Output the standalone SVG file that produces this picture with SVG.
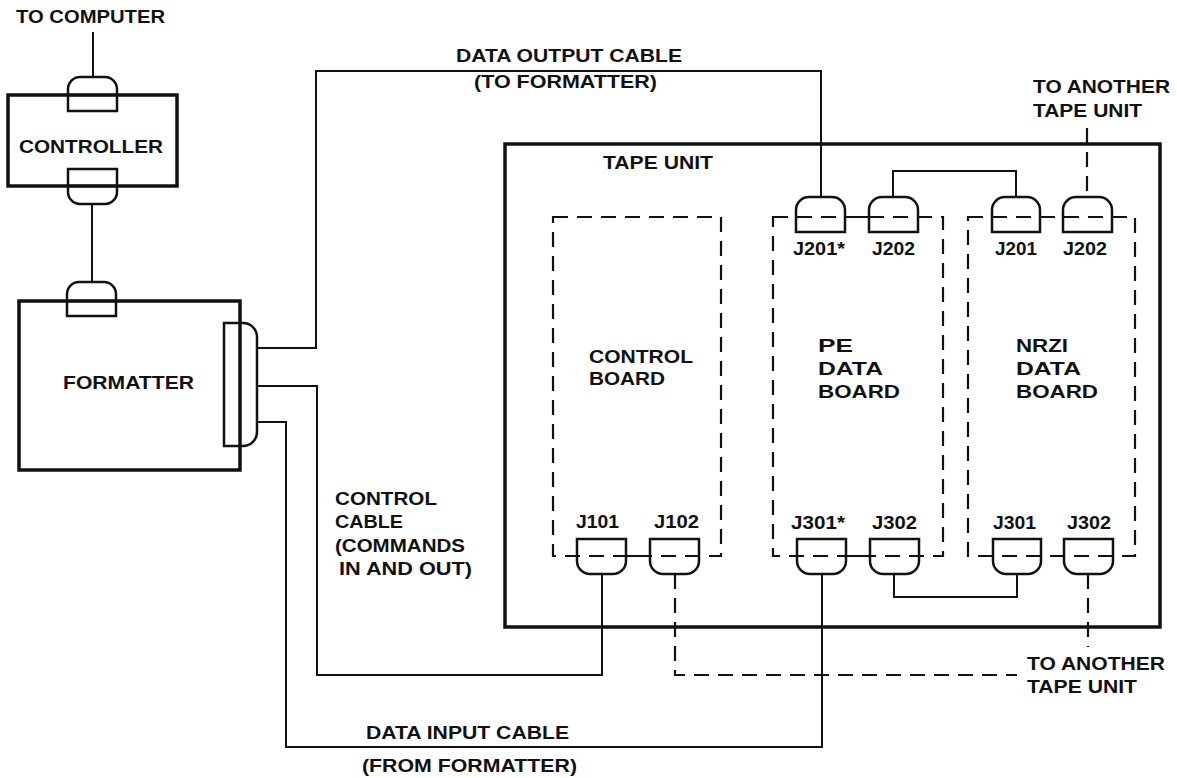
<svg xmlns="http://www.w3.org/2000/svg" width="1177" height="778" viewBox="0 0 1177 778">
<style>
.t{font-family:"Liberation Sans",Arial,Helvetica,sans-serif;font-weight:bold;font-size:18px;fill:#111}
.box{fill:none;stroke:#111;stroke-width:3.5}
.wire{fill:none;stroke:#111;stroke-width:2}
.dash{fill:none;stroke:#111;stroke-width:2.2;stroke-dasharray:15 9}
.conn{fill:none;stroke:#111;stroke-width:2.5}
</style>
<rect width="1177" height="778" fill="#fff"/>

<g id="connectors">
  <path class="wire" d="M93,32 V77"/>
  <path class="wire" d="M92,204 V282"/>
  <path class="wire" d="M257,348 H316 V71 H821 V197"/>
  <path class="wire" d="M257,386 H317 V675 H602 V574"/>
  <path class="wire" d="M257,422 H286 V747 H822 V574"/>
  <path class="dash" d="M675,574 V675 H1017"/>
  <path class="dash" d="M1088,574 V647"/>
  <path class="dash" d="M1087,128 V197"/>
  <path class="wire" d="M893,197 V171 H1016 V197"/>
  <path class="wire" d="M894,574 V597 H1017 V574"/>
  <path class="wire" d="M845,217 H869 M626,556 H650 M846,556 H870"/>
</g>

<g id="controller">
  <rect class="box" x="8" y="95" width="169" height="91"/>
  <path class="conn" d="M68,95 V89 A12,12 0 0 1 80,77 H105 A12,12 0 0 1 117,89 V95 Z M68,95 V111 H117 V95"/>
  <path class="conn" d="M68,186 V169 H117 V186 M68,186 V192 A12,12 0 0 0 80,204 H105 A12,12 0 0 0 117,192 V186 Z"/>
  <text class="t" x="19" y="153" textLength="144" lengthAdjust="spacingAndGlyphs">CONTROLLER</text>
</g>

<g id="formatter">
  <rect class="box" x="19" y="301" width="221" height="169"/>
  <path class="conn" d="M67,301 V294 A12,12 0 0 1 79,282 H104 A12,12 0 0 1 116,294 V301 Z M67,301 V316 H116 V301"/>
  <path class="conn" d="M240,323 H224 V446 H240"/>
  <path class="conn" d="M240,323 H243 A14,14 0 0 1 257,337 V432 A14,14 0 0 1 243,446 H240"/>
  <text class="t" x="63" y="389" textLength="131" lengthAdjust="spacingAndGlyphs">FORMATTER</text>
</g>

<g id="tape-unit">
  <rect class="box" x="505" y="144" width="655" height="483"/>
  <text class="t" x="603" y="169" textLength="110" lengthAdjust="spacingAndGlyphs">TAPE UNIT</text>
</g>

<g id="control-board">
  <rect class="dash" x="553" y="217" width="168" height="339"/>
  <text class="t" x="589" y="363" textLength="104" lengthAdjust="spacingAndGlyphs">CONTROL</text>
  <text class="t" x="589" y="385" textLength="76" lengthAdjust="spacingAndGlyphs">BOARD</text>
  <path class="conn" d="M577,539 H626 V561 A13,13 0 0 1 613,574 H590 A13,13 0 0 1 577,561 Z"/>
  <path class="conn" d="M650,539 H699 V561 A13,13 0 0 1 686,574 H663 A13,13 0 0 1 650,561 Z"/>
  <text class="t" x="576" y="528" textLength="43" lengthAdjust="spacingAndGlyphs">J101</text>
  <text class="t" x="654" y="528" textLength="45" lengthAdjust="spacingAndGlyphs">J102</text>
</g>

<g id="pe-data-board">
  <rect class="dash" x="773" y="217" width="170" height="339"/>
  <text class="t" x="818" y="352" textLength="35" lengthAdjust="spacingAndGlyphs">PE</text>
  <text class="t" x="818" y="375" textLength="65" lengthAdjust="spacingAndGlyphs">DATA</text>
  <text class="t" x="818" y="398" textLength="82" lengthAdjust="spacingAndGlyphs">BOARD</text>
  <path class="conn" d="M796,232 V210 A13,13 0 0 1 809,197 H832 A13,13 0 0 1 845,210 V232 Z"/>
  <path class="conn" d="M869,232 V210 A13,13 0 0 1 882,197 H905 A13,13 0 0 1 918,210 V232 Z"/>
  <path class="conn" d="M797,539 H846 V561 A13,13 0 0 1 833,574 H810 A13,13 0 0 1 797,561 Z"/>
  <path class="conn" d="M870,539 H919 V561 A13,13 0 0 1 906,574 H883 A13,13 0 0 1 870,561 Z"/>
  <text class="t" x="793" y="255" textLength="52" lengthAdjust="spacingAndGlyphs">J201*</text>
  <text class="t" x="872" y="255" textLength="43" lengthAdjust="spacingAndGlyphs">J202</text>
  <text class="t" x="791" y="529" textLength="54" lengthAdjust="spacingAndGlyphs">J301*</text>
  <text class="t" x="872" y="529" textLength="45" lengthAdjust="spacingAndGlyphs">J302</text>
</g>

<g id="nrzi-data-board">
  <rect class="dash" x="968" y="217" width="167" height="339"/>
  <text class="t" x="1016" y="352" textLength="52" lengthAdjust="spacingAndGlyphs">NRZI</text>
  <text class="t" x="1016" y="375" textLength="65" lengthAdjust="spacingAndGlyphs">DATA</text>
  <text class="t" x="1016" y="398" textLength="82" lengthAdjust="spacingAndGlyphs">BOARD</text>
  <path class="conn" d="M992,232 V210 A13,13 0 0 1 1005,197 H1027 A13,13 0 0 1 1040,210 V232 Z"/>
  <path class="conn" d="M1063,232 V210 A13,13 0 0 1 1076,197 H1099 A13,13 0 0 1 1112,210 V232 Z"/>
  <path class="conn" d="M993,539 H1041 V561 A13,13 0 0 1 1028,574 H1006 A13,13 0 0 1 993,561 Z"/>
  <path class="conn" d="M1064,539 H1113 V561 A13,13 0 0 1 1100,574 H1077 A13,13 0 0 1 1064,561 Z"/>
  <text class="t" x="995" y="255" textLength="42" lengthAdjust="spacingAndGlyphs">J201</text>
  <text class="t" x="1063" y="255" textLength="44" lengthAdjust="spacingAndGlyphs">J202</text>
  <text class="t" x="993" y="529" textLength="43" lengthAdjust="spacingAndGlyphs">J301</text>
  <text class="t" x="1067" y="529" textLength="44" lengthAdjust="spacingAndGlyphs">J302</text>
</g>

<g id="labels">
  <text class="t" x="16" y="23" textLength="149" lengthAdjust="spacingAndGlyphs">TO COMPUTER</text>
  <text class="t" x="456" y="62" textLength="226" lengthAdjust="spacingAndGlyphs">DATA OUTPUT CABLE</text>
  <text class="t" x="474" y="88" textLength="183" lengthAdjust="spacingAndGlyphs">(TO FORMATTER)</text>
  <text class="t" x="1033" y="93" textLength="137" lengthAdjust="spacingAndGlyphs">TO ANOTHER</text>
  <text class="t" x="1033" y="117" textLength="109" lengthAdjust="spacingAndGlyphs">TAPE UNIT</text>
  <text class="t" x="335" y="505" textLength="102" lengthAdjust="spacingAndGlyphs">CONTROL</text>
  <text class="t" x="335" y="528" textLength="68" lengthAdjust="spacingAndGlyphs">CABLE</text>
  <text class="t" x="335" y="552" textLength="130" lengthAdjust="spacingAndGlyphs">(COMMANDS</text>
  <text class="t" x="339" y="575" textLength="133" lengthAdjust="spacingAndGlyphs">IN AND OUT)</text>
  <text class="t" x="1027" y="670" textLength="138" lengthAdjust="spacingAndGlyphs">TO ANOTHER</text>
  <text class="t" x="1027" y="693" textLength="110" lengthAdjust="spacingAndGlyphs">TAPE UNIT</text>
  <text class="t" x="366" y="739" textLength="203" lengthAdjust="spacingAndGlyphs">DATA INPUT CABLE</text>
  <text class="t" x="362" y="772" textLength="215" lengthAdjust="spacingAndGlyphs">(FROM FORMATTER)</text>
</g>
</svg>
